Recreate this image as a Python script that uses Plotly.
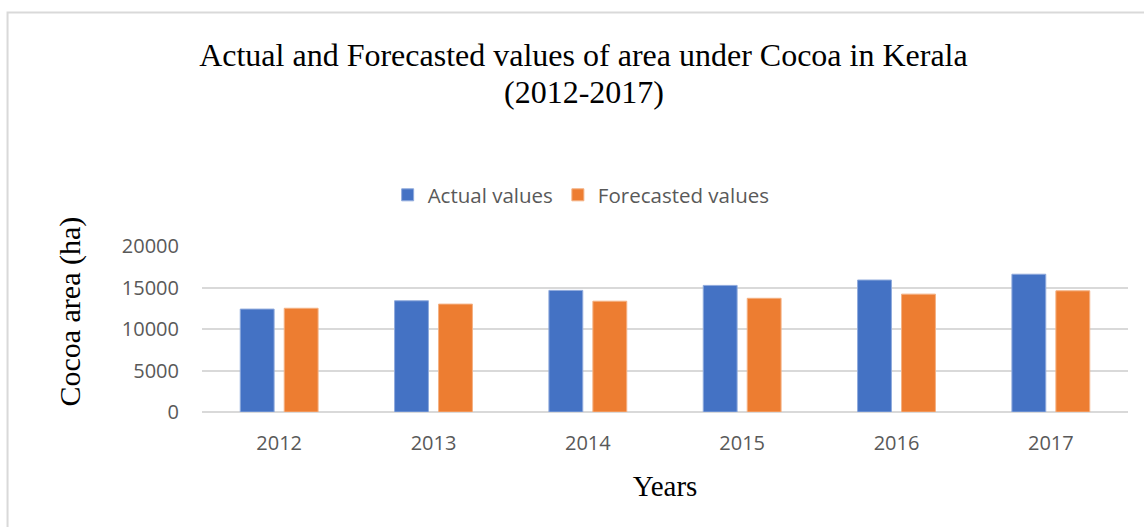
import plotly.graph_objects as go

# Cocoa area in Kerala, hectares
years = ["2012", "2013", "2014", "2015", "2016", "2017"]
actual_values = [12400, 13400, 14650, 15250, 15900, 16600]
forecasted_values = [12500, 13000, 13350, 13700, 14200, 14600]
y_ticks = [0, 5000, 10000, 15000, 20000]

BLUE = "#4472C4"
ORANGE = "#ED7D31"
GRID = "#D9D9D9"
TICK_GREY = "#595959"
SERIF = "Liberation Serif, Times New Roman, serif"
SANS = "Open Sans, Liberation Sans, sans-serif"

fig = go.Figure()
fig.add_trace(go.Bar(
    name="Actual values", x=years, y=actual_values,
    marker=dict(color=BLUE, line=dict(color="#8FAADC", width=1)),
))
fig.add_trace(go.Bar(
    name="Forecasted values", x=years, y=forecasted_values,
    marker=dict(color=ORANGE, line=dict(color="#F4B183", width=1)),
))

fig.update_layout(
    width=1144, height=527,
    paper_bgcolor="white", plot_bgcolor="white",
    margin=dict(l=202, r=16, t=246, b=115),
    barmode="group", bargap=0.43, bargroupgap=0.23,
    title=dict(
        text="Actual and Forecasted values of area under Cocoa in Kerala",
        font=dict(family=SERIF, size=32, color="black"),
        x=0.51, xanchor="center", xref="container",
        y=0.8956, yanchor="middle", yref="container",
    ),
    legend=dict(
        orientation="h", xref="container", x=0.508, xanchor="center",
        yref="container", y=0.63, yanchor="middle",
        font=dict(family=SANS, size=20.5, color=TICK_GREY),
        itemwidth=30, traceorder="normal",
    ),
    shapes=[dict(
        type="rect", xref="paper", yref="paper",
        x0=-0.21, x1=1.08, y0=-0.75, y1=2.407,
        line=dict(color=GRID, width=2), fillcolor="rgba(0,0,0,0)", layer="below",
    )],
    annotations=[
        # second title line, set closer than the default line spacing
        dict(
            text="(2012-2017)", showarrow=False,
            xref="paper", yref="paper", x=0.412, y=1.928,
            xanchor="center", yanchor="middle",
            font=dict(family=SERIF, size=32, color="black"),
        ),
        dict(
            text="Cocoa area (ha)", textangle=-90, showarrow=False,
            xref="paper", yref="paper", x=-0.1425, y=0.605,
            xanchor="center", yanchor="middle",
            font=dict(family=SERIF, size=30, color="black"),
        ),
    ],
)

fig.update_xaxes(
    type="category", showgrid=False, showline=False, ticks="",
    tickfont=dict(family=SANS, size=20, color=TICK_GREY),
    ticklabelstandoff=17,
    title=dict(text="Years", font=dict(family=SERIF, size=29, color="black"), standoff=20),
)
fig.update_yaxes(
    range=[0, 20000], tickvals=y_ticks, ticktext=[str(v) for v in y_ticks],
    showgrid=True, gridcolor=GRID, gridwidth=1.5,
    zeroline=True, zerolinecolor=GRID, zerolinewidth=1.5,
    showline=False, ticks="",
    tickfont=dict(family=SANS, size=20, color=TICK_GREY),
    ticklabelstandoff=22,
)

fig.write_html("out.html")
